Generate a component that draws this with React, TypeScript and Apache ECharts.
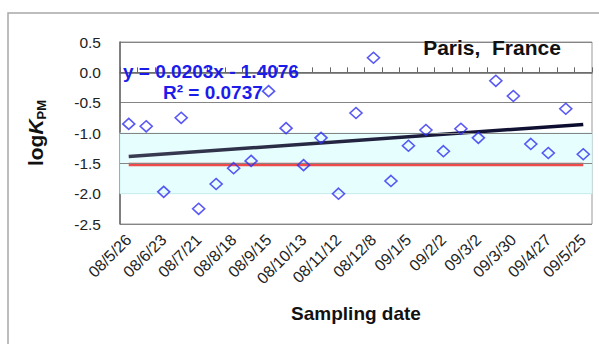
import React, { useEffect, useRef } from "react";
import * as echarts from "echarts";

const dates = [
  "08/5/26", "08/6/9", "08/6/23", "08/7/7", "08/7/21", "08/8/4", "08/8/18",
  "08/9/1", "08/9/15", "08/9/29", "08/10/13", "08/10/27", "08/11/12", "08/11/26",
  "08/12/8", "08/12/22", "09/1/5", "09/1/19", "09/2/2", "09/2/16", "09/3/2",
  "09/3/16", "09/3/30", "09/4/13", "09/4/27", "09/5/11", "09/5/25",
];
const logKpm = [
  -0.85, -0.89, -1.97, -0.75, -2.25, -1.84, -1.58, -1.46, -0.31, -0.92,
  -1.53, -1.08, -2.0, -0.67, 0.24, -1.79, -1.21, -0.95, -1.3, -0.93,
  -1.08, -0.14, -0.39, -1.18, -1.33, -0.6, -1.35,
];
// regression line end points (y = 0.0203x - 1.4076 at x = 1 and x = 27)
const trendEnds = [-1.387, -0.859];
const referenceLevel = [-1.52, -1.52];
const bandRange = [-1.0, -2.0];
const yTicks = { min: -2.5, max: 0.5, interval: 0.5 };

const FONT = 'Arial, "Liberation Sans", sans-serif';

export default function App() {
  const ref = useRef<HTMLDivElement>(null);
  useEffect(() => {
    const chart = echarts.init(ref.current!, null, { renderer: "svg" });
    const last = dates.length - 1;
    chart.setOption({
      animation: false,
      textStyle: { fontFamily: FONT },
      grid: {
        left: 120, right: 7, top: 42, bottom: 120,
        show: true, borderColor: "#9a9a9a", borderWidth: 1,
      },
      xAxis: {
        type: "category",
        data: dates,
        boundaryGap: true,
        name: "Sampling date",
        nameLocation: "middle",
        nameGap: 80,
        nameMoveOverlap: false,
        nameTextStyle: { fontSize: 19, fontWeight: "bold", color: "#111", fontFamily: FONT },
        axisLine: { lineStyle: { color: "#666", width: 1.5 } },
        axisTick: { show: true, inside: true, length: 5, interval: 0, lineStyle: { color: "#666" } },
        axisLabel: {
          interval: 1, rotate: 45, fontSize: 16, color: "#222", margin: 13, fontFamily: FONT,
        },
        splitLine: { show: false },
      },
      yAxis: {
        type: "value",
        min: yTicks.min, max: yTicks.max, interval: yTicks.interval,
        name: "{a|log}{b|K}{c|PM}",
        nameLocation: "middle",
        nameRotate: 90,
        nameGap: 72,
        nameMoveOverlap: false,
        nameTextStyle: {
          rich: {
            a: { fontSize: 21, fontWeight: "bold", color: "#111", fontFamily: FONT, lineHeight: 26 },
            b: { fontSize: 21, fontWeight: "bold", fontStyle: "italic", color: "#111", fontFamily: FONT, lineHeight: 26 },
            c: { fontSize: 13, fontWeight: "bold", color: "#111", fontFamily: FONT, lineHeight: 14, verticalAlign: "bottom" },
          },
        },
        axisLine: { show: true, lineStyle: { color: "#666", width: 1.5 } },
        axisTick: { show: false },
        axisLabel: {
          fontSize: 15.5, color: "#222", margin: 19, fontFamily: FONT,
          formatter: (v: number) => v.toFixed(1),
        },
        splitLine: { show: true, lineStyle: { color: "#858585", width: 1 } },
      },
      series: [
        {
          name: "band",
          type: "line",
          data: [],
          silent: true,
          markArea: {
            silent: true,
            itemStyle: { color: "#e6fefe", borderColor: "#c8f4f4", borderWidth: 0.8 },
            data: [[{ yAxis: bandRange[0] }, { yAxis: bandRange[1] }]],
          },
          markLine: {
            silent: true,
            symbol: "none",
            label: { show: false },
            lineStyle: { color: "#858585", width: 1, type: "solid" },
            data: [{ yAxis: -1.0 }, { yAxis: -1.5 }],
          },
        },
        {
          name: "reference",
          type: "line",
          data: [[0, referenceLevel[0]], [last, referenceLevel[1]]],
          symbol: "none",
          lineStyle: { color: "#f04a4a", width: 3.5 },
          z: 3,
        },
        {
          name: "trend",
          type: "line",
          data: [[0, trendEnds[0]], [last, trendEnds[1]]],
          symbol: "none",
          lineStyle: {
            width: 3.5,
            color: new echarts.graphic.LinearGradient(0, 0, 1, 0, [
              { offset: 0, color: "#3a3d52" },
              { offset: 1, color: "#0a0a2e" },
            ]),
          },
          z: 4,
        },
        {
          name: "logKPM",
          type: "scatter",
          data: logKpm,
          symbol: "diamond",
          symbolSize: [12, 11],
          itemStyle: { color: "rgba(255,255,255,0)", borderColor: "#3030f0", borderWidth: 1.6 },
          z: 5,
        },
      ],
      graphic: [
        {
          type: "rect",
          silent: true,
          shape: { x: 8, y: 13, width: 700, height: 400 },
          style: { fill: "none", stroke: "#a8a8a8", lineWidth: 1.5 },
          z: -10,
        },
        {
          type: "text",
          x: 123, y: 71,
          style: {
            text: "y = 0.0203x - 1.4076",
            font: `bold 19px ${FONT}`,
            fill: "#1c1cea",
            verticalAlign: "middle",
          },
          z: 10,
        },
        {
          type: "text",
          x: 163, y: 92,
          style: {
            text: "R² = 0.0737",
            font: `bold 19px ${FONT}`,
            fill: "#1c1cea",
            verticalAlign: "middle",
          },
          z: 10,
        },
        {
          type: "text",
          x: 492, y: 47,
          style: {
            text: "Paris,  France",
            font: `bold 21px ${FONT}`,
            fill: "#111",
            align: "center",
            verticalAlign: "middle",
          },
          z: 10,
        },
      ],
    });
    return () => chart.dispose();
  }, []);
  return (
    <div
      ref={ref}
      style={{ position: "fixed", left: 0, top: 0, width: 599, height: 344, background: "#fff" }}
    />
  );
}
